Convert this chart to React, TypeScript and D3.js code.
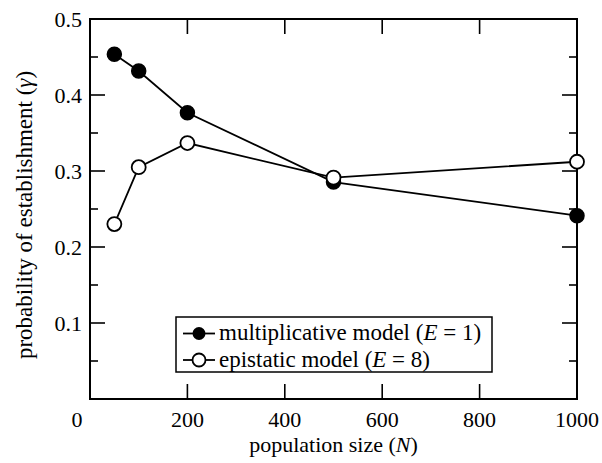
import * as d3 from 'd3';

const popSizes = [50, 100, 200, 500, 1000];
const multiplicative = [0.4535, 0.4316, 0.3767, 0.2855, 0.2412];
const epistatic = [0.2302, 0.305, 0.3368, 0.2912, 0.3122];
const xTicks = [0, 200, 400, 600, 800, 1000];
const yTicks = [0, 0.1, 0.2, 0.3, 0.4, 0.5];
const yMinor = [0.05, 0.15, 0.25, 0.35, 0.45];

const serif = 'Liberation Serif';

export default function App() {
  const width = 602;
  const height = 463;
  const margin = { top: 19, right: 25, bottom: 64, left: 90 };
  const x = d3.scaleLinear().domain([0, 1000]).range([margin.left, width - margin.right]);
  const y = d3.scaleLinear().domain([0, 0.5]).range([height - margin.bottom, margin.top]);
  const [x0, x1] = x.range();
  const [yb, yt] = y.range();

  const line = d3
    .line<number>()
    .x((_, i) => x(popSizes[i]))
    .y((d) => y(d));

  const major = 15;
  const minor = 8;

  return (
    <svg
      width={width}
      height={height}
      style={{ position: 'absolute', left: 0, top: 0, background: '#fff' }}
    >
      {/* ticks */}
      <g stroke="#000" strokeWidth={1.6}>
        {xTicks.map((t) => (
          <g key={'x' + t}>
            <line x1={x(t)} x2={x(t)} y1={yb} y2={yb - major} />
            <line x1={x(t)} x2={x(t)} y1={yt} y2={yt + major} />
          </g>
        ))}
        {yTicks.map((t) => (
          <g key={'y' + t}>
            <line x1={x0} x2={x0 + major} y1={y(t)} y2={y(t)} />
            <line x1={x1} x2={x1 - major} y1={y(t)} y2={y(t)} />
          </g>
        ))}
        {yMinor.map((t) => (
          <g key={'m' + t}>
            <line x1={x0} x2={x0 + minor} y1={y(t)} y2={y(t)} />
            <line x1={x1} x2={x1 - minor} y1={y(t)} y2={y(t)} />
          </g>
        ))}
      </g>
      <rect x={x0} y={yt} width={x1 - x0} height={yb - yt} fill="none" stroke="#000" strokeWidth={2} />

      {/* tick labels */}
      {xTicks.map((t) => (
        <text key={'xl' + t} x={x(t) + (t === 0 ? -13 : 0)} y={yb + 28} textAnchor="middle" fontSize={22} fontFamily={serif}>
          {t}
        </text>
      ))}
      {yTicks
        .filter((t) => t > 0)
        .map((t) => (
          <text key={'yl' + t} x={x0 - 8} y={y(t) + 7.5} textAnchor="end" fontSize={22} fontFamily={serif}>
            {t.toFixed(1)}
          </text>
        ))}

      {/* axis titles */}
      <text x={(x0 + x1) / 2} y={452} textAnchor="middle" fontSize={22} fontFamily={serif}>
        population size (<tspan fontStyle="italic">N</tspan>)
      </text>
      <text
        transform={`translate(32,215) rotate(-90)`}
        textAnchor="middle"
        fontSize={23}
        fontFamily={serif}
      >
        probability of establishment (<tspan fontStyle="italic">γ</tspan>)
      </text>

      {/* series */}
      <path d={line(multiplicative) ?? ''} fill="none" stroke="#000" strokeWidth={1.8} />
      <path d={line(epistatic) ?? ''} fill="none" stroke="#000" strokeWidth={1.8} />
      {multiplicative.map((v, i) => (
        <circle key={'f' + i} cx={x(popSizes[i])} cy={y(v)} r={7} fill="#000" stroke="#000" strokeWidth={1.5} />
      ))}
      {epistatic.map((v, i) => (
        <circle key={'o' + i} cx={x(popSizes[i])} cy={y(v)} r={7} fill="#fff" stroke="#000" strokeWidth={1.8} />
      ))}

      {/* legend */}
      <rect x={176} y={317} width={316} height={55} fill="#fff" stroke="#000" strokeWidth={1.5} />
      <line x1={183} x2={215} y1={333.5} y2={333.5} stroke="#000" strokeWidth={1.8} />
      <circle cx={199} cy={333.5} r={6.5} fill="#000" />
      <line x1={183} x2={215} y1={360} y2={360} stroke="#000" strokeWidth={1.8} />
      <circle cx={199} cy={360} r={6.5} fill="#fff" stroke="#000" strokeWidth={1.8} />
      <text x={219} y={340} fontSize={23} fontFamily={serif}>
        multiplicative model (<tspan fontStyle="italic">E</tspan> = 1)
      </text>
      <text x={219} y={367} fontSize={23} fontFamily={serif}>
        epistatic model (<tspan fontStyle="italic">E</tspan> = 8)
      </text>
    </svg>
  );
}
